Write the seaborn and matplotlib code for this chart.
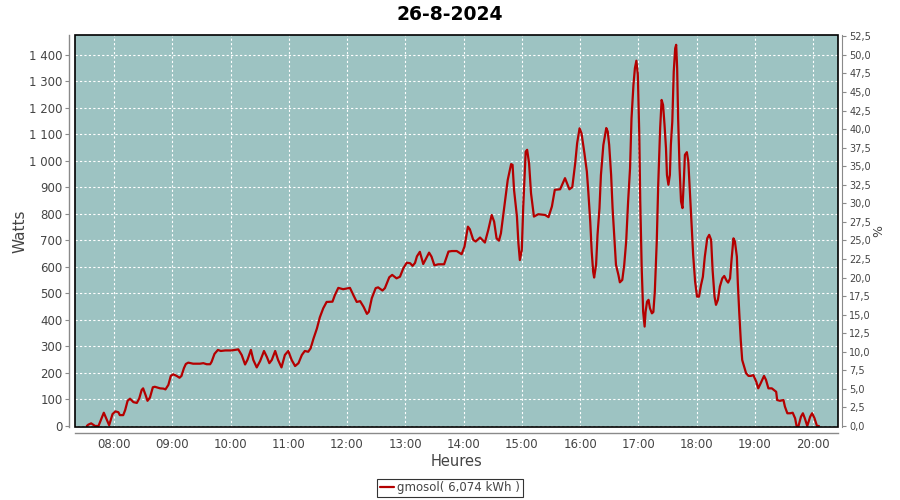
import pandas as pd
import matplotlib
matplotlib.use('agg')
import matplotlib.pyplot as plt
import matplotlib.dates as mdates
from matplotlib.ticker import FuncFormatter, MultipleLocator
from matplotlib.patches import Rectangle
import seaborn as sns

day = "2024-08-26"
title = "26-8-2024"
series_name = "gmosol( 6,074 kWh )"

heures = [
    "07:32:00", "07:33:30", "07:36:30", "07:40:30", "07:44:00", "07:49:30", "07:55:00", "07:58:30",
    "08:01:30", "08:04:30", "08:06:00", "08:09:30", "08:11:30", "08:14:00", "08:16:30", "08:20:00",
    "08:23:30", "08:26:00", "08:28:30", "08:30:00", "08:32:30", "08:34:30", "08:37:00", "08:40:00",
    "08:42:00", "08:47:30", "08:51:00", "08:53:00", "08:56:00", "08:58:30", "09:01:00", "09:04:30",
    "09:07:30", "09:09:30", "09:12:00", "09:14:00", "09:16:30", "09:21:30", "09:28:30", "09:32:00",
    "09:35:30", "09:39:00", "09:40:30", "09:43:30", "09:47:00", "09:50:00", "09:54:30", "10:01:00",
    "10:08:00", "10:11:30", "10:15:00", "10:17:30", "10:21:00", "10:23:30", "10:27:00", "10:30:30",
    "10:34:30", "10:37:30", "10:40:00", "10:42:30", "10:46:00", "10:49:00", "10:52:30", "10:56:00",
    "10:59:30", "11:03:00", "11:06:30", "11:10:00", "11:13:30", "11:16:30", "11:20:00", "11:22:30",
    "11:25:30", "11:29:00", "11:32:00", "11:35:30", "11:39:00", "11:45:00", "11:47:30", "11:51:00",
    "11:56:00", "12:03:00", "12:06:30", "12:10:00", "12:13:30", "12:17:00", "12:20:30", "12:22:30",
    "12:25:30", "12:29:30", "12:32:00", "12:36:30", "12:39:00", "12:43:30", "12:46:30", "12:51:00",
    "12:54:30", "12:58:00", "13:01:30", "13:05:00", "13:07:30", "13:10:00", "13:12:00", "13:15:00",
    "13:18:30", "13:24:30", "13:27:00", "13:30:00", "13:34:00", "13:40:00", "13:44:30", "13:48:00",
    "13:53:00", "13:58:00", "14:01:00", "14:04:30", "14:06:30", "14:10:00", "14:12:30", "14:17:00",
    "14:22:00", "14:25:30", "14:29:00", "14:31:30", "14:34:00", "14:36:30", "14:38:30", "14:42:00",
    "14:45:30", "14:49:00", "14:50:30", "14:52:00", "14:55:00", "14:56:30", "14:58:00", "15:00:00",
    "15:01:30", "15:04:00", "15:05:30", "15:07:30", "15:09:30", "15:12:30", "15:17:00", "15:24:00",
    "15:27:30", "15:31:00", "15:34:00", "15:39:30", "15:44:30", "15:49:00", "15:52:00", "15:55:00",
    "15:57:00", "15:59:30", "16:01:30", "16:04:30", "16:07:00", "16:08:30", "16:10:30", "16:12:00",
    "16:13:30", "16:14:30", "16:16:30", "16:18:00", "16:20:00", "16:21:30", "16:24:00", "16:27:00",
    "16:28:30", "16:30:00", "16:32:00", "16:33:30", "16:35:30", "16:37:00", "16:39:30", "16:41:00",
    "16:43:30", "16:45:30", "16:47:30", "16:49:30", "16:51:30", "16:53:00", "16:55:00", "16:56:30",
    "16:58:00", "16:59:30", "17:01:00", "17:02:00", "17:03:30", "17:05:00", "17:06:30", "17:07:30",
    "17:09:00", "17:10:30", "17:12:00", "17:14:00", "17:15:30", "17:17:00", "17:19:00", "17:20:30",
    "17:22:30", "17:24:00", "17:25:30", "17:27:00", "17:28:30", "17:29:30", "17:31:00", "17:32:30",
    "17:33:30", "17:35:00", "17:36:30", "17:38:00", "17:39:00", "17:40:00", "17:41:00", "17:42:30",
    "17:44:00", "17:45:30", "17:47:00", "17:48:00", "17:50:00", "17:51:30", "17:53:30", "17:55:00",
    "17:56:30", "17:58:30", "18:00:30", "18:02:30", "18:04:30", "18:06:30", "18:08:30", "18:11:00",
    "18:13:00", "18:15:00", "18:16:30", "18:18:30", "18:20:00", "18:22:00", "18:24:00", "18:26:30",
    "18:28:30", "18:31:00", "18:32:30", "18:34:30", "18:36:00", "18:38:00", "18:39:30", "18:41:30",
    "18:42:30", "18:44:00", "18:45:30", "18:47:00", "18:49:00", "18:51:00", "18:53:30", "18:56:00",
    "18:58:30", "19:01:30", "19:03:30", "19:06:00", "19:09:30", "19:11:30", "19:14:00", "19:17:30",
    "19:22:00", "19:23:00", "19:26:00", "19:29:30", "19:31:00", "19:33:30", "19:36:30", "19:39:00",
    "19:41:30", "19:43:00", "19:45:00", "19:47:30", "19:49:30", "19:51:30", "19:54:00", "19:57:00",
    "19:59:00", "20:01:30", "20:04:00", "20:06:00",
]

watts = [
    0, 5, 10, 0, 0, 50, 3, 45,
    55, 52, 41, 41, 60, 95, 103, 90,
    87, 104, 136, 142, 117, 95, 107, 146,
    148, 142, 141, 138, 155, 189, 195, 189,
    182, 189, 218, 234, 239, 235, 235, 237,
    233, 233, 242, 272, 287, 283, 285, 285,
    289, 268, 232, 250, 287, 249, 221, 245,
    283, 260, 237, 249, 283, 249, 221, 268,
    283, 249, 226, 237, 268, 283, 280, 293,
    330, 368, 410, 444, 468, 469, 494, 521,
    516, 521, 494, 468, 471, 450, 423, 431,
    482, 520, 523, 511, 520, 561, 570, 557,
    563, 595, 616, 614, 604, 615, 640, 657,
    611, 654, 639, 606, 610, 610, 658, 660,
    660, 648, 677, 752, 742, 702, 696, 711,
    692, 740, 796, 771, 708, 699, 727, 828,
    928, 988, 985, 891, 790, 690, 626, 664,
    828, 1035, 1042, 991, 878, 790, 799, 796,
    788, 828, 891, 893, 935, 893, 901, 991,
    1067, 1123, 1104, 1029, 960, 884, 771, 658,
    582, 560, 608, 721, 822, 947, 1060, 1124,
    1111, 1060, 947, 822, 696, 608, 570, 542,
    551, 608, 696, 847, 973, 1161, 1287, 1350,
    1378, 1325, 1098, 847, 595, 431, 375, 431,
    469, 476, 444, 425, 430, 507, 696, 910,
    1124, 1230, 1211, 1136, 1048, 947, 910, 947,
    1060, 1148, 1337, 1425, 1438, 1350, 1161, 973,
    847, 822, 935, 1023, 1033, 998, 859, 759,
    645, 545, 488, 488, 530, 563, 639, 708,
    721, 702, 589, 488, 457, 476, 526, 557,
    566, 548, 541, 557, 626, 708, 696, 639,
    538, 425, 325, 249, 224, 199, 189, 189,
    192, 167, 142, 161, 189, 174, 142, 142,
    129, 98, 95, 98, 73, 48, 48, 50,
    29, 0, 0, 35, 48, 29, 0, 35,
    48, 29, 0, 0,
]

watts_ticks = list(range(0, 1401, 100))

sns.set_style("white")
plt.rcParams['font.family'] = ['DejaVu Sans']

df = pd.DataFrame({
    'heure': pd.to_datetime([day + " " + h for h in heures]),
    'watts': watts,
})

bg = "#9dc3c2"
red = "#b40000"
axis_grey = "#8a8a8a"
text_grey = "#444444"

fig = plt.figure(figsize=(9, 5), dpi=100)
ax = fig.add_axes([75 / 900, 73 / 500, 763 / 900, 392 / 500])
ax.set_facecolor(bg)

sns.lineplot(data=df, x='heure', y='watts', ax=ax, color=red, linewidth=1.6,
             estimator=None, sort=False, label=series_name)

# limits
ax.set_xlim(pd.Timestamp(day + " 07:19:50"), pd.Timestamp(day + " 20:25:40"))
ylim = (-3.8, 1475)
ax.set_ylim(*ylim)

ax.xaxis.set_major_locator(mdates.HourLocator(byhour=range(8, 21)))
ax.xaxis.set_major_formatter(mdates.DateFormatter("%H:%M"))
ax.set_yticks(watts_ticks)
ax.yaxis.set_major_formatter(FuncFormatter(lambda v, p: f"{v:,.0f}".replace(",", " ")))

ax.grid(True, color="white", linestyle=(0, (2, 2)), linewidth=0.8)

for side in ["top", "right"]:
    ax.spines[side].set_visible(False)
for side in ["left", "bottom"]:
    ax.spines[side].set_color(axis_grey)
    ax.spines[side].set_linewidth(1.0)
    ax.spines[side].set_position(("outward", 4))
ax.tick_params(axis="both", direction="out", length=3, width=0.8, color=axis_grey,
               labelcolor=text_grey, labelsize=8.5, pad=2)
ax.tick_params(axis="x", pad=1)

ax.set_xlabel("Heures", fontsize=10.5, color=text_grey, labelpad=2)
ax.set_ylabel("Watts", fontsize=11, color=text_grey, labelpad=1)

# right axis in %
ax2 = ax.twinx()
ax2.set_ylim(ylim[0] / 28, ylim[1] / 28)
ax2.yaxis.set_major_locator(MultipleLocator(2.5))
ax2.yaxis.set_major_formatter(FuncFormatter(lambda v, p: f"{v:.1f}".replace(".", ",")))
for side in ["top", "left", "bottom"]:
    ax2.spines[side].set_visible(False)
ax2.spines["right"].set_color(axis_grey)
ax2.spines["right"].set_position(("outward", 3))
ax2.tick_params(axis="y", direction="out", length=3, width=0.8, color=axis_grey,
                labelcolor=text_grey, labelsize=7, pad=2)
ax2.set_ylabel("%", fontsize=9, color=text_grey, labelpad=1)

# black border round the plot area
ax.add_patch(Rectangle((0, 0), 1, 1, transform=ax.transAxes, fill=False,
                       edgecolor="black", linewidth=1.2, clip_on=False, zorder=5))

fig.text(0.5, 1 - 14 / 500, title, ha="center", va="center",
         fontsize=13.5, fontweight="bold", color="black")

handles, labels = ax.get_legend_handles_labels()
ax.get_legend().remove()
leg = fig.legend(handles, labels, loc="center", bbox_to_anchor=(0.5, 1 - 488 / 500),
                 frameon=True, fancybox=False, edgecolor="black", fontsize=8.5,
                 handlelength=1.2, handletextpad=0.3, borderpad=0.25, borderaxespad=0)
leg.get_frame().set_linewidth(0.8)
for t in leg.get_texts():
    t.set_color(text_grey)

fig.savefig("out.png", dpi=100)
